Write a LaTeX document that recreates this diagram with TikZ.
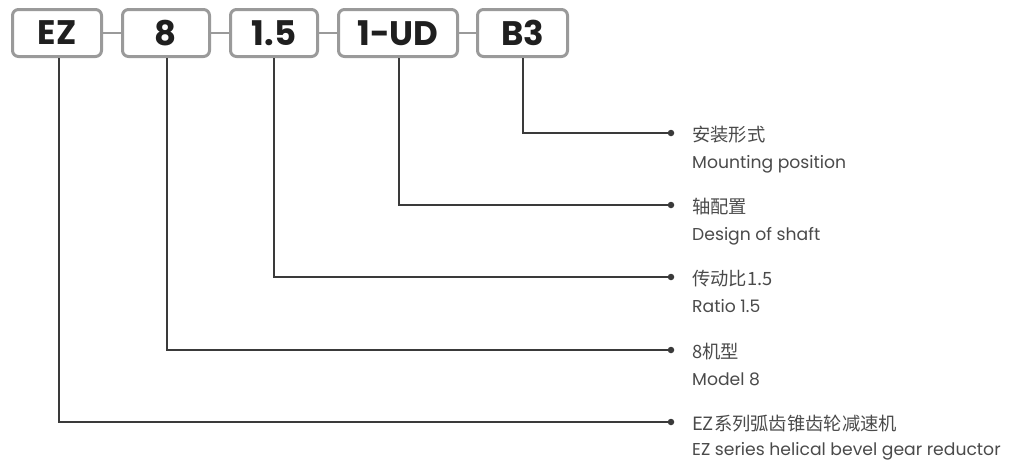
\documentclass[tikz,border=0pt]{standalone}
\usepackage{fontspec}
\setmainfont{Poppins}
\newfontfamily\boxfont{Poppins}
\newfontfamily\cjk{Noto Sans CJK SC}
\definecolor{boxgray}{HTML}{9A9A9A}
\definecolor{linegray}{HTML}{3A3A3A}
\definecolor{txtgray}{HTML}{4A4A4A}
\begin{document}
\begin{tikzpicture}[x=1pt,y=-1pt,
  codebox/.style={draw=boxgray, line width=3pt, rounded corners=6pt,
    minimum height=47pt, inner sep=0pt, text=black!88,
    font=\boxfont\bfseries\fontsize{34}{34}\selectfont},
  joint/.style={draw=boxgray, line width=2pt},
  lead/.style={draw=linegray, line width=1.1pt},
  dot/.style={circle, fill=linegray, inner sep=0pt, minimum size=6.5pt},
  cnlabel/.style={anchor=base west, inner sep=0pt, text=txtgray,
    font=\cjk\fontsize{18.3}{18.3}\selectfont},
  enlabel/.style={anchor=base west, inner sep=0pt, text=txtgray,
    font=\fontsize{17.2}{17.2}\selectfont}]
\useasboundingbox (0,0) rectangle (1009,461);
% code boxes
\node[codebox, minimum width=89pt] (ez) at (57,33) {EZ};
\node[codebox, minimum width=87pt] (m8) at (166,33) {8};
\node[codebox, minimum width=87pt] (r15) at (274,33) {1.5};
\node[codebox, minimum width=119pt] (ud) at (398,33) {1-UD};
\node[codebox, minimum width=90pt] (b3) at (522.5,33) {B3};
\draw[joint] (ez) -- (m8);
\draw[joint] (m8) -- (r15);
\draw[joint] (r15) -- (ud);
\draw[joint] (ud) -- (b3);
% dots
\node[dot] (d1) at (671,133) {};
\node[dot] (d2) at (671,205) {};
\node[dot] (d3) at (671,277) {};
\node[dot] (d4) at (671,350) {};
\node[dot] (d5) at (671,422) {};
% leads
\draw[lead] (b3.south -| 523,0) |- (d1);
\draw[lead] (ud.south -| 399,0) |- (d2);
\draw[lead] (r15.south -| 274,0) |- (d3);
\draw[lead] (m8.south -| 167,0) |- (d4);
\draw[lead] (ez.south -| 59,0) |- (d5);
% labels
\node[cnlabel] (c1) at (692,141) {安装形式};
\node[enlabel] (e1) at (692,168) {Mounting position};
\node[cnlabel] (c2) at (692,213) {轴配置};
\node[enlabel] (e2) at (692,240) {Design of shaft};
\node[cnlabel] (c3) at (692,285) {传动比1.5};
\node[enlabel] (e3) at (692,312) {Ratio 1.5};
\node[cnlabel] (c4) at (692,358) {8机型};
\node[enlabel] (e4) at (692,385) {Model 8};
\node[cnlabel] (c5) at (692,430) {EZ系列弧齿锥齿轮减速机};
\node[enlabel] (e5) at (692,455) {EZ series helical bevel gear reductor};
\end{tikzpicture}
\end{document}
